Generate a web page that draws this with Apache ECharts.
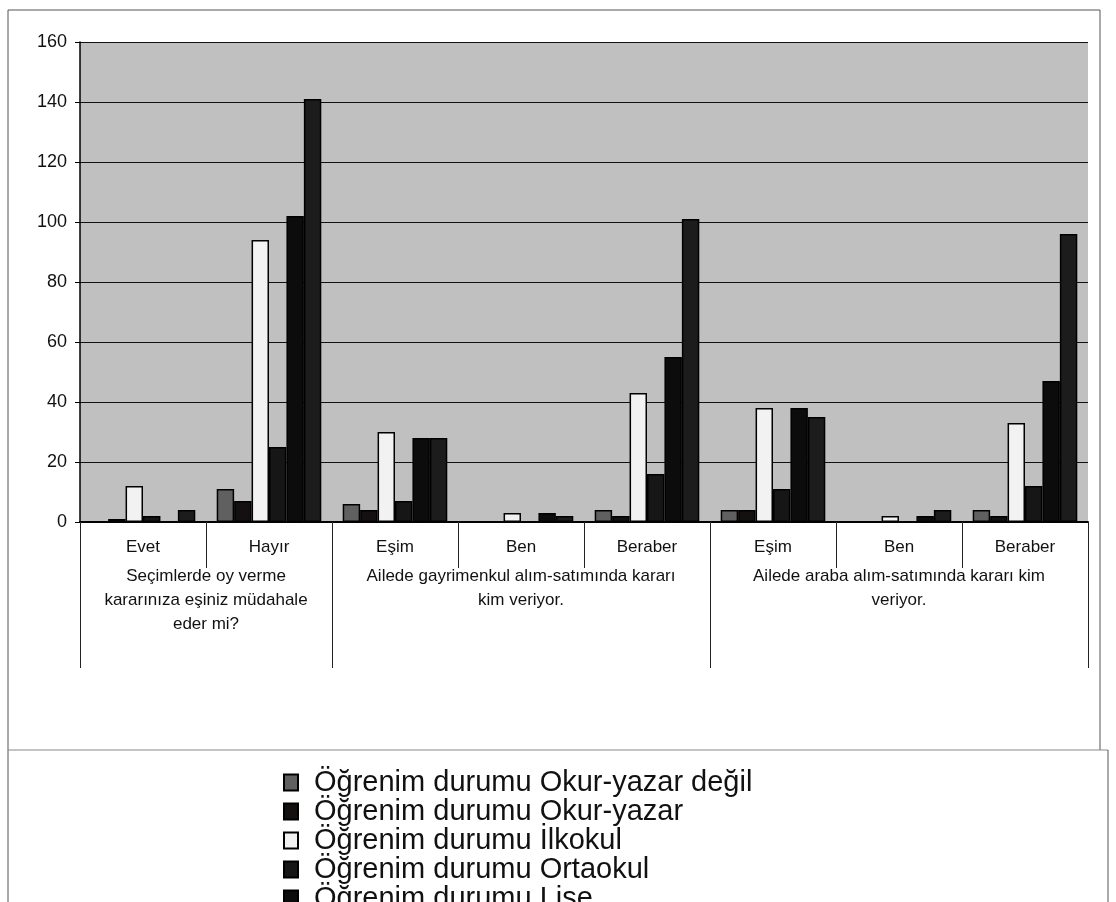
<!DOCTYPE html>
<html>
<head>
<meta charset="utf-8">
<script src="https://cdn.jsdelivr.net/npm/echarts@6/dist/echarts.min.js"></script>
<style>
html,body{margin:0;padding:0;background:#fff;overflow:hidden;}
#chart{width:1116px;height:980px;}
</style>
</head>
<body>
<div id="chart"></div>
<script>
// ---- data ----
const categories = ['Evet', 'Hayır', 'Eşim', 'Ben', 'Beraber', 'Eşim', 'Ben', 'Beraber'];
const groupLabels = ['Seçimlerde oy verme\nkararınıza eşiniz müdahale\neder mi?',
  'Ailede gayrimenkul alım-satımında kararı\nkim veriyor.',
  'Ailede araba alım-satımında kararı kim\nveriyor.'];
const groupSizes = [2, 3, 3];
const seriesNames = ['Öğrenim durumu Okur-yazar değil', 'Öğrenim durumu Okur-yazar',
  'Öğrenim durumu İlkokul', 'Öğrenim durumu Ortaokul', 'Öğrenim durumu Lise',
  'Öğrenim durumu Üniversite'];
const okurYazarDegil = [0, 11, 6, 0, 4, 4, 0, 4];
const okurYazar = [1, 7, 4, 0, 2, 4, 0, 2];
const ilkokul = [12, 94, 30, 3, 43, 38, 2, 33];
const ortaokul = [2, 25, 7, 0, 16, 11, 0, 12];
const lise = [0, 102, 28, 3, 55, 38, 2, 47];
const universite = [4, 141, 28, 2, 101, 35, 4, 96];
const yTicks = [0, 20, 40, 60, 80, 100, 120, 140, 160];

// ---- build ----
const seriesData = [okurYazarDegil, okurYazar, ilkokul, ortaokul, lise, universite];
const colors = ['#606060', '#141010', '#f2f2f2', '#161616', '#0c0c0c', '#1c1c1c'];

// secondary (group) axis: half-category points, boundaryGap false
const nHalf = categories.length * 2 + 1;
const groupAxisData = new Array(nHalf).fill('');
const groupTickIdx = [0];
let acc = 0;
groupSizes.forEach((s, i) => {
  groupAxisData[acc * 2 + s] = groupLabels[i];
  acc += s;
  groupTickIdx.push(acc * 2);
});

const FONT = 'Liberation Sans, Arial, sans-serif';
const chart = echarts.init(document.getElementById('chart'), null, {renderer: 'canvas'});
chart.setOption({
  animation: false,
  backgroundColor: '#ffffff',
  grid: {
    left: 80, width: 1008, top: 42, height: 480,
    show: true, backgroundColor: '#c0c0c0', borderWidth: 0
  },
  xAxis: [{
    type: 'category',
    data: categories,
    boundaryGap: true,
    axisLine: {show: true, lineStyle: {color: '#000', width: 2}},
    axisTick: {show: true, interval: 0, length: 46, lineStyle: {color: '#222', width: 1}},
    axisLabel: {interval: 0, margin: 17, fontFamily: FONT, fontSize: 17, color: '#111'},
    splitLine: {show: false}
  }, {
    type: 'category',
    data: groupAxisData,
    boundaryGap: false,
    position: 'bottom',
    axisLine: {show: false},
    axisTick: {show: true, length: 146, interval: (i) => groupTickIdx.indexOf(i) >= 0,
      lineStyle: {color: '#222', width: 1}},
    axisLabel: {interval: 0, margin: 42, fontFamily: FONT, fontSize: 17, lineHeight: 24,
      color: '#111', align: 'center', verticalAlign: 'top'},
    splitLine: {show: false}
  }],
  yAxis: {
    type: 'value', min: 0, max: 160, interval: 20,
    axisLine: {show: true, lineStyle: {color: '#000', width: 1.5}},
    axisTick: {show: true, length: 5, lineStyle: {color: '#000'}},
    axisLabel: {margin: 13, fontFamily: FONT, fontSize: 18, color: '#111',
      formatter: (v) => (yTicks.indexOf(v) >= 0 ? String(v) : '')},
    splitLine: {show: true, lineStyle: {color: '#111', width: 1}}
  },
  legend: {
    orient: 'vertical',
    left: 278, top: 763,
    itemWidth: 14, itemHeight: 16, itemGap: 0,
    icon: 'rect',
    textStyle: {fontFamily: FONT, fontSize: 29, lineHeight: 29, color: '#111', padding: [0, 0, 0, 11]},
    data: seriesNames
  },
  graphic: [
    {type: 'line', shape: {x1: 8, y1: 10, x2: 1100, y2: 10}, style: {stroke: '#555', lineWidth: 1}},
    {type: 'line', shape: {x1: 8, y1: 10, x2: 8, y2: 902}, style: {stroke: '#555', lineWidth: 1}},
    {type: 'line', shape: {x1: 1100, y1: 10, x2: 1100, y2: 750}, style: {stroke: '#555', lineWidth: 1}},
    {type: 'line', shape: {x1: 8, y1: 750, x2: 1108, y2: 750}, style: {stroke: '#888', lineWidth: 1}},
    {type: 'line', shape: {x1: 1108, y1: 750, x2: 1108, y2: 902}, style: {stroke: '#555', lineWidth: 1}}
  ],
  series: seriesNames.map((name, i) => ({
    name: name,
    type: 'bar',
    xAxisIndex: 0,
    data: seriesData[i],
    barGap: '0%',
    barCategoryGap: '17%',
    itemStyle: {color: colors[i], borderColor: '#000', borderWidth: 1.5}
  }))
});
</script>
</body>
</html>
